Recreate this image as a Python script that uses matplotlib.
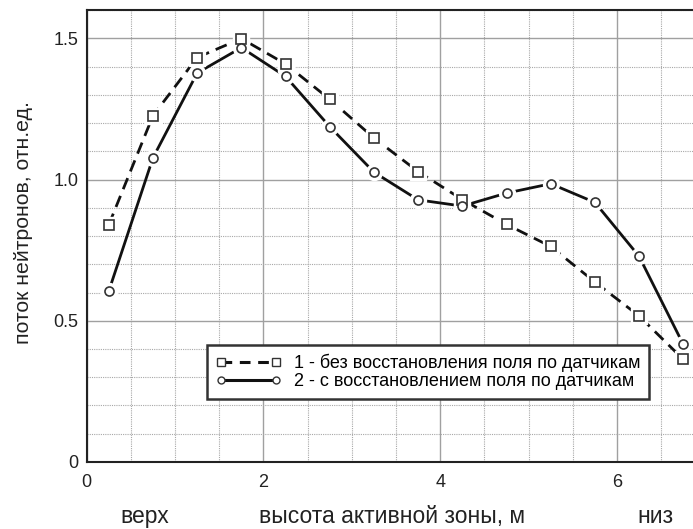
import matplotlib
matplotlib.use("Agg")
import matplotlib.pyplot as plt
from matplotlib.ticker import MultipleLocator, FixedLocator
from matplotlib.lines import Line2D

plt.rcParams['font.family'] = ['Liberation Sans', 'DejaVu Sans']

# data
height_m = [0.25, 0.75, 1.25, 1.75, 2.25, 2.75, 3.25, 3.75, 4.25, 4.75, 5.25, 5.75, 6.25, 6.75]
flux_no_restore = [0.84, 1.226, 1.432, 1.499, 1.409, 1.284, 1.147, 1.028, 0.929, 0.841, 0.763, 0.637, 0.517, 0.363]
flux_restore = [0.605, 1.077, 1.377, 1.467, 1.365, 1.187, 1.026, 0.928, 0.906, 0.952, 0.985, 0.919, 0.728, 0.416]

label_1 = '1 - без восстановления поля по датчикам'
label_2 = '2 - с восстановлением поля по датчикам'
x_ticks = [0, 2, 4, 6]
y_ticks = [0, 0.5, 1.0, 1.5]
y_tick_labels = ['0', '0.5', '1.0', '1.5']

fig = plt.figure(figsize=(6.93, 5.29), dpi=100)
ax = fig.add_axes([0.1251, 0.1267, 0.8749, 0.8543])

ax.set_xlim(0, 6.86)
ax.set_ylim(0, 1.6)

# grid
ax.xaxis.set_major_locator(FixedLocator(x_ticks))
ax.xaxis.set_minor_locator(MultipleLocator(0.5))
ax.yaxis.set_major_locator(FixedLocator(y_ticks))
ax.yaxis.set_minor_locator(MultipleLocator(0.1))
ax.set_yticklabels(y_tick_labels)
ax.grid(True, which='major', color='#a0a0a0', linewidth=1.0, linestyle='-')
ax.grid(True, which='minor', color='#a8a8a8', linewidth=0.8, linestyle=(0, (1, 1)))
ax.set_axisbelow(True)

ax.tick_params(which='both', length=0, labelsize=13, colors='#222222')
ax.tick_params(axis='x', pad=9)
ax.tick_params(axis='y', pad=6)

for side in ['left', 'bottom', 'top']:
    ax.spines[side].set_linewidth(1.5)
    ax.spines[side].set_color('#222222')
ax.spines['right'].set_visible(False)

# lines, then a white ring under each marker so the line stops short of it
ax.plot(height_m, flux_no_restore, color='#111111', linewidth=2.0,
        linestyle=(0, (4.3, 2.6)), zorder=3)
ax.plot(height_m, flux_restore, color='#111111', linewidth=2.0,
        linestyle='-', zorder=3)
ax.plot(height_m, flux_no_restore, linestyle='none', marker='s', markersize=11.5,
        markerfacecolor='white', markeredgecolor='white', zorder=4)
ax.plot(height_m, flux_restore, linestyle='none', marker='o', markersize=11.5,
        markerfacecolor='white', markeredgecolor='white', zorder=4)
ax.plot(height_m, flux_no_restore, linestyle='none', marker='s', markersize=7,
        markerfacecolor='white', markeredgecolor='#333333', markeredgewidth=1.2, zorder=5)
ax.plot(height_m, flux_restore, linestyle='none', marker='o', markersize=6.5,
        markerfacecolor='white', markeredgecolor='#333333', markeredgewidth=1.2, zorder=5)

handles = [
    Line2D([], [], color='#111111', linewidth=2.2, linestyle=(0, (3.5, 2.5)),
           marker='s', markersize=6, markerfacecolor='white',
           markeredgecolor='#333333', markeredgewidth=1.0),
    Line2D([], [], color='#111111', linewidth=2.2, linestyle='-',
           marker='o', markersize=5, markerfacecolor='white',
           markeredgecolor='#333333', markeredgewidth=1.0),
]
leg = ax.legend(handles, [label_1, label_2], loc='upper left',
                bbox_to_anchor=(0.198, 0.259), numpoints=2, handlelength=3.65,
                handletextpad=0.68, fontsize=13, fancybox=False, framealpha=1,
                edgecolor='#333333', borderpad=0.5, labelspacing=0.05,
                borderaxespad=0)
leg.get_frame().set_linewidth(1.8)

fig.text(24 / 693, 1 - 223 / 529, 'поток нейтронов, отн.ед.', fontsize=15.3, rotation=90,
         ha='center', va='center', color='#222222')

fig.text(144.5 / 693, 1 - 523 / 529, 'верх', fontsize=16.5, ha='center', va='baseline', color='#222222')
fig.text(392.5 / 693, 1 - 523 / 529, 'высота активной зоны, м', fontsize=16.5, ha='center',
         va='baseline', color='#222222')
fig.text(655 / 693, 1 - 523 / 529, 'низ', fontsize=16.5, ha='center', va='baseline', color='#222222')

fig.savefig('out.png', dpi=100)
